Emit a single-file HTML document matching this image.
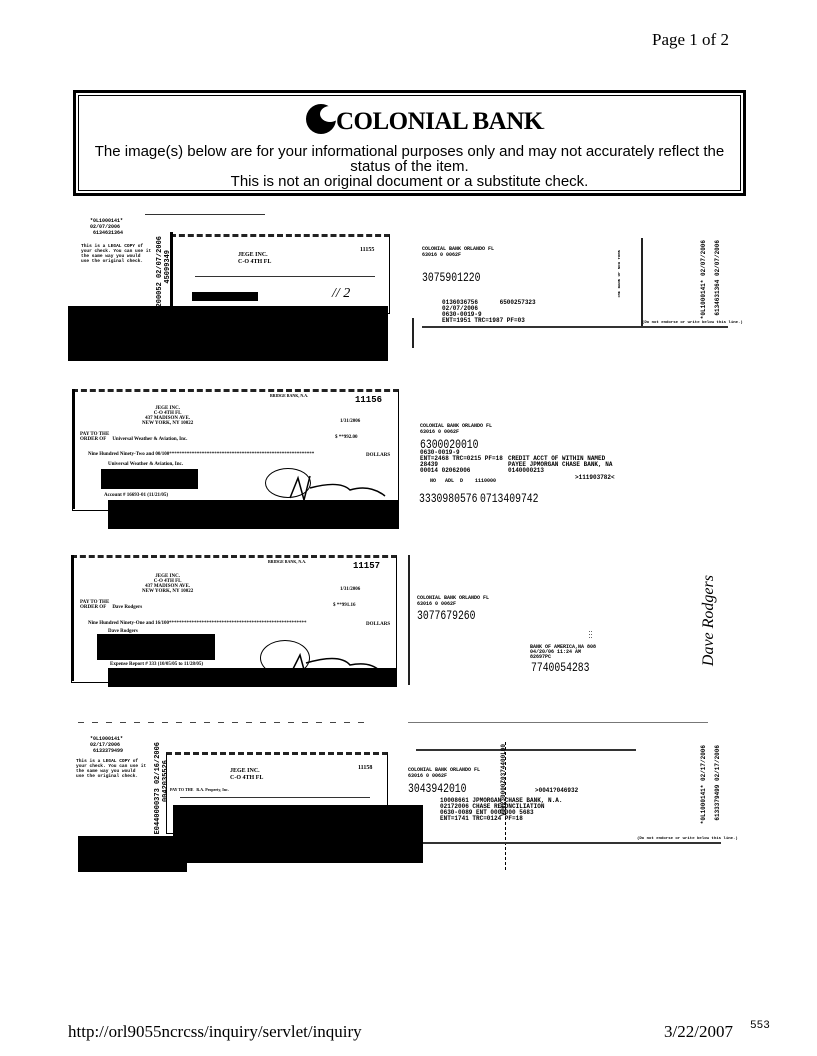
<!DOCTYPE html>
<html><head><meta charset="utf-8"><style>
body{margin:0;background:#fff;width:817px;height:1056px;position:relative;overflow:hidden;font-family:"Liberation Sans",sans-serif;color:#000}
.a{position:absolute}
.blk{position:absolute;background:#000}
.chk{position:absolute;border:1.5px solid #000;border-top:3px dashed #222;box-sizing:border-box}
.t{position:absolute;font-size:5px;line-height:6px;white-space:nowrap;font-family:"Liberation Mono",monospace;font-weight:bold}
.s{position:absolute;font-size:6px;line-height:7px;white-space:nowrap;font-family:"Liberation Serif",serif;font-weight:bold}
.m{position:absolute;font-family:"Liberation Mono",monospace;font-size:13px;transform:scaleX(.75);transform-origin:left top;white-space:nowrap}
.v{position:absolute;font-family:"Liberation Mono",monospace;font-size:7px;font-weight:bold;writing-mode:vertical-rl;transform:rotate(180deg);white-space:nowrap}
.hl{position:absolute;height:1.5px;background:#333}
.vl{position:absolute;width:1.5px;background:#222}
</style></head><body>
<div class="a" style="left:652px;top:30px;font-family:'Liberation Serif',serif;font-size:17px">Page 1 of 2</div>

<div class="a" style="left:73px;top:90px;width:673px;height:106px;border:3px solid #000;box-sizing:border-box">
 <div class="a" style="left:2px;top:2px;right:2px;bottom:2px;border:1px solid #000"></div>
</div>
<div class="a" style="left:306px;top:104px;width:30px;height:30px;border-radius:50%;background:#000"></div>
<div class="a" style="left:320px;top:106px;width:20px;height:16px;border-radius:50%;background:#fff"></div>
<div class="a" style="left:336px;top:108px;font-family:'Liberation Serif',serif;font-weight:bold;font-size:25px;letter-spacing:-.5px">COLONIAL BANK<span style="font-size:8px">.</span></div>
<div class="a" style="left:73px;width:673px;top:144px;text-align:center;font-size:15px;line-height:15px">The image(s) below are for your informational purposes only and may not accurately reflect the<br>status of the item.<br>This is not an original document or a substitute check.</div>

<!-- row 1 -->
<div class="hl" style="left:145px;top:214px;width:120px;height:1px"></div>
<div class="t" style="left:90px;top:218px">*0L1000141*<br>02/07/2006<br>&nbsp;6134631364</div>
<div class="t" style="left:81px;top:244px;font-size:4.5px;line-height:5px">This is a LEGAL COPY of<br>your check. You can use it<br>the same way you would<br>use the original check.</div>
<div class="v" style="left:156px;top:236px">1200052 02/07/2006</div>
<div class="v" style="left:164px;top:250px">45099349</div>
<div class="chk" style="left:170px;top:234px;width:220px;height:80px"></div>
<div class="vl" style="left:170px;top:232px;width:3px;height:80px;background:#000"></div>
<div class="s" style="left:360px;top:247px">11155</div>
<div class="s" style="left:238px;top:252px">JEGE INC.<br>C-O 4TH FL</div>
<div class="hl" style="left:195px;top:276px;width:180px;height:1px"></div>
<div class="blk" style="left:192px;top:292px;width:66px;height:9px"></div>
<div class="blk" style="left:68px;top:306px;width:320px;height:55px"></div>
<div class="s" style="left:332px;top:290px;font-size:14px;font-weight:normal;font-style:italic">// 2</div>
<div class="t" style="left:422px;top:246px">COLONIAL BANK ORLANDO FL</div>
<div class="t" style="left:422px;top:252px">63016 0 0062F</div>
<div class="m" style="left:422px;top:270px">3075901220</div>
<div class="t" style="left:442px;top:300px;font-size:6px;line-height:6px">0136036756&nbsp;&nbsp;&nbsp;&nbsp;&nbsp;&nbsp;6500257323<br>02/07/2006<br>0630-0019-9<br>ENT=1951 TRC=1987 PF=03</div>
<div class="hl" style="left:422px;top:326px;width:306px"></div>
<div class="vl" style="left:412px;top:318px;height:30px"></div>
<div class="vl" style="left:641px;top:238px;height:88px;width:2px"></div>
<div class="v" style="left:618px;top:250px;font-size:4px">THE BANK OF NEW YORK</div>
<div class="v" style="left:700px;top:240px;font-size:6px">*0L1000141* 02/07/2006</div>
<div class="v" style="left:714px;top:240px;font-size:6px">6134631364 02/07/2006</div>
<div class="t" style="left:642px;top:320px;font-size:4px">(Do not endorse or write below this line.)</div>

<!-- row 2 -->
<div class="chk" style="left:72px;top:389px;width:327px;height:122px"></div>
<div class="vl" style="left:72px;top:389px;width:3px;height:120px;background:#000"></div>
<div class="s" style="left:270px;top:392px;font-size:4px">BRIDGE BANK, N.A.</div>
<div class="s" style="left:355px;top:397px;font-size:9px;font-family:'Liberation Mono',monospace">11156</div>
<div class="s" style="left:142px;top:406px;text-align:center;font-size:5px;line-height:5px">JEGE INC.<br>C-O 4TH FL<br>437 MADISON AVE.<br>NEW YORK, NY 10022</div>
<div class="s" style="left:340px;top:418px;font-size:5px">1/31/2006</div>
<div class="s" style="left:80px;top:432px;font-size:5px;line-height:5px">PAY TO THE<br>ORDER OF &nbsp;&nbsp;&nbsp;&nbsp;Universal Weather &amp; Aviation, Inc.</div>
<div class="s" style="left:335px;top:434px;font-size:5px">$ **992.00</div>
<div class="s" style="left:88px;top:451px;font-size:5px">Nine Hundred Ninety-Two and 00/100**********************************************************</div>
<div class="s" style="left:366px;top:452px;font-size:5px">DOLLARS</div>
<div class="s" style="left:108px;top:461px;font-size:5px">Universal Weather &amp; Aviation, Inc.</div>
<div class="blk" style="left:101px;top:469px;width:97px;height:20px"></div>
<div class="s" style="left:104px;top:492px;font-size:5px">Account # 16693-01 (11/21/05)</div>
<div class="a" style="left:265px;top:468px;width:44px;height:28px;border:1.5px solid #000;border-radius:50%"></div>
<svg class="a" style="left:280px;top:470px" width="110" height="36"><path d="M10 28 L18 8 L24 30 L30 6 M30 18 Q60 10 70 20 Q90 14 105 26" fill="none" stroke="#000" stroke-width="1.5"/></svg>
<div class="blk" style="left:108px;top:500px;width:291px;height:29px"></div>
<div class="t" style="left:422px;top:526px"></div>
<div class="t" style="left:422px;top:530px"></div>
<div class="t" style="left:424px;top:532px"></div>
<div class="t" style="left:420px;top:520px"></div>
<div class="t" style="left:420px;top:423px">COLONIAL BANK ORLANDO FL<br>63016 0 0062F</div>
<div class="m" style="left:420px;top:437px">6300020010</div>
<div class="t" style="left:420px;top:450px;font-size:6px;line-height:6px">0630-0019-9<br>ENT=2468 TRC=0215 PF=18<br>28439<br>00014 02062006</div>
<div class="t" style="left:508px;top:456px;font-size:6px;line-height:6px">CREDIT ACCT OF WITHIN NAMED<br>PAYEE JPMORGAN CHASE BANK, NA<br>0140000213</div>
<div class="t" style="left:575px;top:475px;font-size:6px">&gt;111903782&lt;</div>
<div class="t" style="left:430px;top:478px;font-size:5px">NO &nbsp;&nbsp;ADL &nbsp;D &nbsp;&nbsp;&nbsp;1110000</div>
<div class="m" style="left:419px;top:491px">3330980576</div>
<div class="m" style="left:480px;top:491px">0713409742</div>

<!-- row 3 -->
<div class="chk" style="left:71px;top:555px;width:326px;height:128px"></div>
<div class="vl" style="left:71px;top:555px;width:3px;height:126px;background:#000"></div>
<div class="s" style="left:268px;top:558px;font-size:4px">BRIDGE BANK, N.A.</div>
<div class="s" style="left:353px;top:563px;font-size:9px;font-family:'Liberation Mono',monospace">11157</div>
<div class="s" style="left:142px;top:574px;text-align:center;font-size:5px;line-height:5px">JEGE INC.<br>C-O 4TH FL<br>437 MADISON AVE.<br>NEW YORK, NY 10022</div>
<div class="s" style="left:340px;top:586px;font-size:5px">1/31/2006</div>
<div class="s" style="left:80px;top:600px;font-size:5px;line-height:5px">PAY TO THE<br>ORDER OF &nbsp;&nbsp;&nbsp;&nbsp;Dave Rodgers</div>
<div class="s" style="left:333px;top:602px;font-size:5px">$ **991.16</div>
<div class="s" style="left:88px;top:620px;font-size:5px">Nine Hundred Ninety-One and 16/100*******************************************************</div>
<div class="s" style="left:366px;top:621px;font-size:5px">DOLLARS</div>
<div class="s" style="left:108px;top:628px;font-size:5px">Dave Rodgers</div>
<div class="blk" style="left:97px;top:634px;width:118px;height:26px"></div>
<div class="s" style="left:110px;top:661px;font-size:5px">Expense Report # 333 (10/05/05 to 11/28/05)</div>
<div class="a" style="left:260px;top:640px;width:48px;height:34px;border:1.5px solid #000;border-radius:50%"></div>
<svg class="a" style="left:280px;top:645px" width="110" height="36"><path d="M10 30 L20 10 L26 32 M26 18 Q60 8 70 20 Q90 16 100 26" fill="none" stroke="#000" stroke-width="1.5"/></svg>
<div class="blk" style="left:108px;top:668px;width:289px;height:19px"></div>
<div class="vl" style="left:408px;top:555px;height:130px"></div>
<div class="t" style="left:417px;top:595px">COLONIAL BANK ORLANDO FL<br>63016 0 0062F</div>
<div class="m" style="left:417px;top:608px">3077679260</div>
<div class="t" style="left:530px;top:645px;font-size:5px;line-height:5px">BANK OF AMERICA,NA 808<br>04/20/06 11:24 AM<br>82697PC</div>
<div class="m" style="left:531px;top:660px">7740054283</div>
<div class="v" style="left:700px;top:575px;font-family:'Liberation Serif',serif;font-style:italic;font-size:16px;font-weight:normal">Dave Rodgers</div>
<div class="v" style="left:588px;top:630px;font-size:5px">:::</div>

<!-- row 4 -->
<div class="hl" style="left:78px;top:722px;width:290px;height:1px;background:repeating-linear-gradient(90deg,#444 0 6px,transparent 6px 14px)"></div>
<div class="hl" style="left:408px;top:722px;width:300px;height:1px;background:#777"></div>
<div class="t" style="left:90px;top:736px">*0L1000141*<br>02/17/2006<br>&nbsp;6133379499</div>
<div class="t" style="left:76px;top:759px;font-size:4.5px;line-height:5px">This is a LEGAL COPY of<br>your check. You can use it<br>the same way you would<br>use the original check.</div>
<div class="v" style="left:154px;top:742px">E0440000373 02/16/2006</div>
<div class="v" style="left:162px;top:760px">0042035526</div>
<div class="chk" style="left:166px;top:752px;width:222px;height:82px"></div>
<div class="s" style="left:358px;top:765px">11158</div>
<div class="s" style="left:230px;top:768px">JEGE INC.<br>C-O 4TH FL</div>
<div class="s" style="left:170px;top:786px;font-size:4px">PAY TO THE &nbsp;&nbsp;R.A. Property, Inc.</div>
<div class="hl" style="left:180px;top:797px;width:190px;height:1px"></div>
<div class="blk" style="left:173px;top:805px;width:250px;height:58px"></div>
<div class="blk" style="left:78px;top:836px;width:109px;height:36px"></div>
<div class="hl" style="left:416px;top:749px;width:220px"></div>
<div class="vl" style="left:505px;top:742px;height:128px;width:1px;background:repeating-linear-gradient(180deg,#000 0 3px,transparent 3px 5px)"></div>
<div class="v" style="left:500px;top:744px;font-size:6px">VJ0230000Z0374400L00</div>
<div class="t" style="left:408px;top:767px">COLONIAL BANK ORLANDO FL<br>63016 0 0062F</div>
<div class="m" style="left:408px;top:781px">3043942010</div>
<div class="t" style="left:535px;top:788px;font-size:6px">>0041?046932</div>
<div class="t" style="left:440px;top:798px;font-size:6px;line-height:6px">10008661 JPMORGAN CHASE BANK, N.A.<br>02172006 CHASE RECONCILIATION<br>0630-0089 ENT 0000000 5683<br>ENT=1741 TRC=0124 PF=18</div>
<div class="v" style="left:700px;top:745px;font-size:6px">*0L1000141* 02/17/2006</div>
<div class="v" style="left:714px;top:745px;font-size:6px">6133379499 02/17/2006</div>
<div class="hl" style="left:423px;top:842px;width:298px"></div>
<div class="t" style="left:637px;top:836px;font-size:4px">(Do not endorse or write below this line.)</div>

<!-- footer -->
<div class="a" style="left:68px;top:1022px;font-family:'Liberation Serif',serif;font-size:17px">http://orl9055ncrcss/inquiry/servlet/inquiry</div>
<div class="a" style="left:664px;top:1022px;font-family:'Liberation Serif',serif;font-size:17px">3/22/2007</div>
<div class="a" style="left:750px;top:1020px;font-family:'Liberation Mono',monospace;font-size:11px">553</div>
</body></html>
